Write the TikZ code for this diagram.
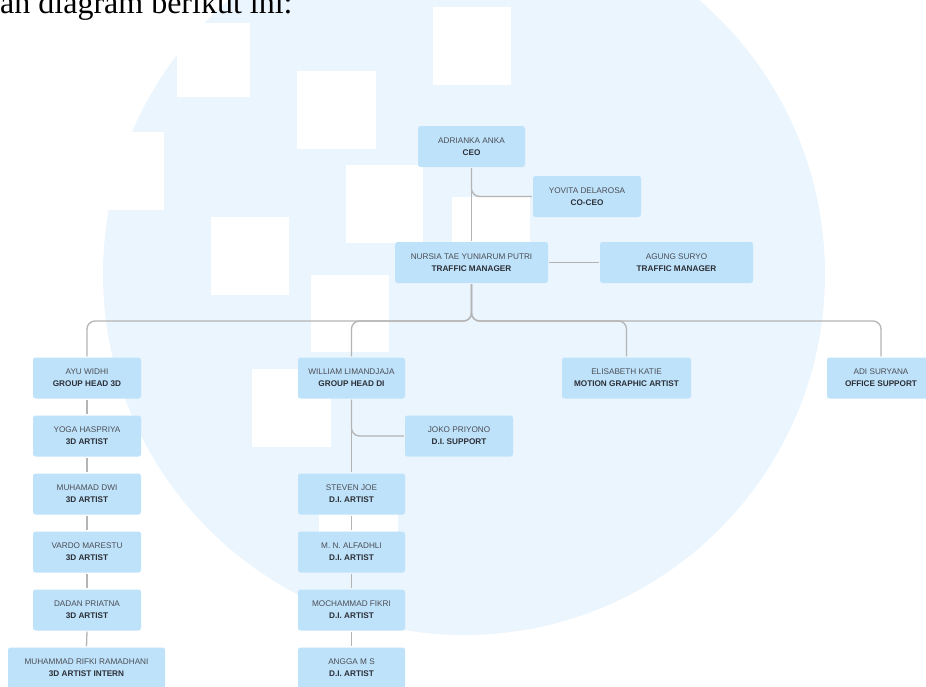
\documentclass[tikz,border=0pt]{standalone}
\usepackage{fontspec}
\setmainfont{Liberation Sans}
\newfontfamily\serifx{Liberation Serif}
\definecolor{circleblue}{HTML}{EBF5FE}
\definecolor{boxblue}{HTML}{BFE2FB}
\definecolor{linegray}{HTML}{B4B4B4}
\definecolor{namegray}{HTML}{4A4E54}
\definecolor{rolegray}{HTML}{2B2F35}
\newcommand\orgtxt[2]{#1\\{\color{rolegray}\bfseries #2}}
\begin{document}
\begin{tikzpicture}[x=1pt,y=-1pt,
  box/.style={rectangle, rounded corners=2.5pt, fill=boxblue, inner sep=0pt,
    minimum height=41pt, align=center, text=namegray,
    font=\fontsize{8.2}{12}\selectfont},
  conn/.style={draw=linegray, line width=1.3pt, rounded corners=8pt,
    shorten <=1pt, shorten >=1pt},
  blank/.style={fill=white, draw=none}]
\useasboundingbox (0,0) rectangle (926,686);
% background
\fill[circleblue] (464,274) circle (361);
\foreach \a/\b/\c/\d in {177/23/250/97, 297/71/376/149, 433/7/511/85,
  100/132/164/210, 211/217/289/295, 346/165/423/243, 452/197/530/275,
  311/275/389/352, 252/369/331/447, 319/494/398/572}
  \fill[blank] (\a,\b) rectangle (\c,\d);
% title
\node[anchor=base west, inner sep=0pt, font=\serifx\fontsize{32}{38}\selectfont] (title) at (0,13) {an diagram berikut ini:};
% nodes
\node[box, minimum width=107pt] (ceo) at (471.5,146.5) {\orgtxt{ADRIANKA ANKA}{CEO}};
\node[box, minimum width=108pt] (yovita) at (587,196.5) {\orgtxt{YOVITA DELAROSA}{CO-CEO}};
\node[box, minimum width=153pt] (nursia) at (471.5,262.5) {\orgtxt{NURSIA TAE YUNIARUM PUTRI}{TRAFFIC MANAGER}};
\node[box, minimum width=153pt] (agung) at (676.5,262.5) {\orgtxt{AGUNG SURYO}{TRAFFIC MANAGER}};
\node[box, minimum width=108pt] (ayu) at (87,378) {\orgtxt{AYU WIDHI}{GROUP HEAD 3D}};
\node[box, minimum width=108pt] (yoga) at (87,436) {\orgtxt{YOGA HASPRIYA}{3D ARTIST}};
\node[box, minimum width=108pt] (muhamad) at (87,494) {\orgtxt{MUHAMAD DWI}{3D ARTIST}};
\node[box, minimum width=108pt] (vardo) at (87,552) {\orgtxt{VARDO MARESTU}{3D ARTIST}};
\node[box, minimum width=108pt] (dadan) at (87,610) {\orgtxt{DADAN PRIATNA}{3D ARTIST}};
\node[box, minimum width=157pt] (rifki) at (86.5,668) {\orgtxt{MUHAMMAD RIFKI RAMADHANI}{3D ARTIST INTERN}};
\node[box, minimum width=107pt] (william) at (351.5,378) {\orgtxt{WILLIAM LIMANDJAJA}{GROUP HEAD DI}};
\node[box, minimum width=108pt] (joko) at (459,436) {\orgtxt{JOKO PRIYONO}{D.I. SUPPORT}};
\node[box, minimum width=107pt] (steven) at (351.5,494) {\orgtxt{STEVEN JOE}{D.I. ARTIST}};
\node[box, minimum width=107pt] (alfadhli) at (351.5,552) {\orgtxt{M. N. ALFADHLI}{D.I. ARTIST}};
\node[box, minimum width=107pt] (fikri) at (351.5,610) {\orgtxt{MOCHAMMAD FIKRI}{D.I. ARTIST}};
\node[box, minimum width=107pt] (angga) at (351.5,668) {\orgtxt{ANGGA M S}{D.I. ARTIST}};
\node[box, minimum width=129pt] (elisabeth) at (626.5,378) {\orgtxt{ELISABETH KATIE}{MOTION GRAPHIC ARTIST}};
\node[box, minimum width=108pt] (adi) at (881,378) {\orgtxt{ADI SURYANA}{OFFICE SUPPORT}};
% connectors
\coordinate (bus) at (471.5,321);
\draw[conn] (ceo.south) -- (nursia.north);
\draw[conn] (ceo.south) |- (yovita.west);
\draw[conn] (nursia.east) -- (agung.west);
\foreach \c in {ayu,william,elisabeth,adi}
  \draw[conn] (nursia.south) -- (bus) -| (\c.north);
\draw[conn] (ayu.south) -- (yoga.north);
\draw[conn] (yoga.south) -- (muhamad.north);
\draw[conn] (muhamad.south) -- (vardo.north);
\draw[conn] (vardo.south) -- (dadan.north);
\draw[conn] (dadan.south) -- (rifki.north);
\draw[conn] (william.south) |- (joko.west);
\draw[conn] (william.south) -- (steven.north);
\draw[conn] (steven.south) -- (alfadhli.north);
\draw[conn] (alfadhli.south) -- (fikri.north);
\draw[conn] (fikri.south) -- (angga.north);
\end{tikzpicture}
\end{document}
